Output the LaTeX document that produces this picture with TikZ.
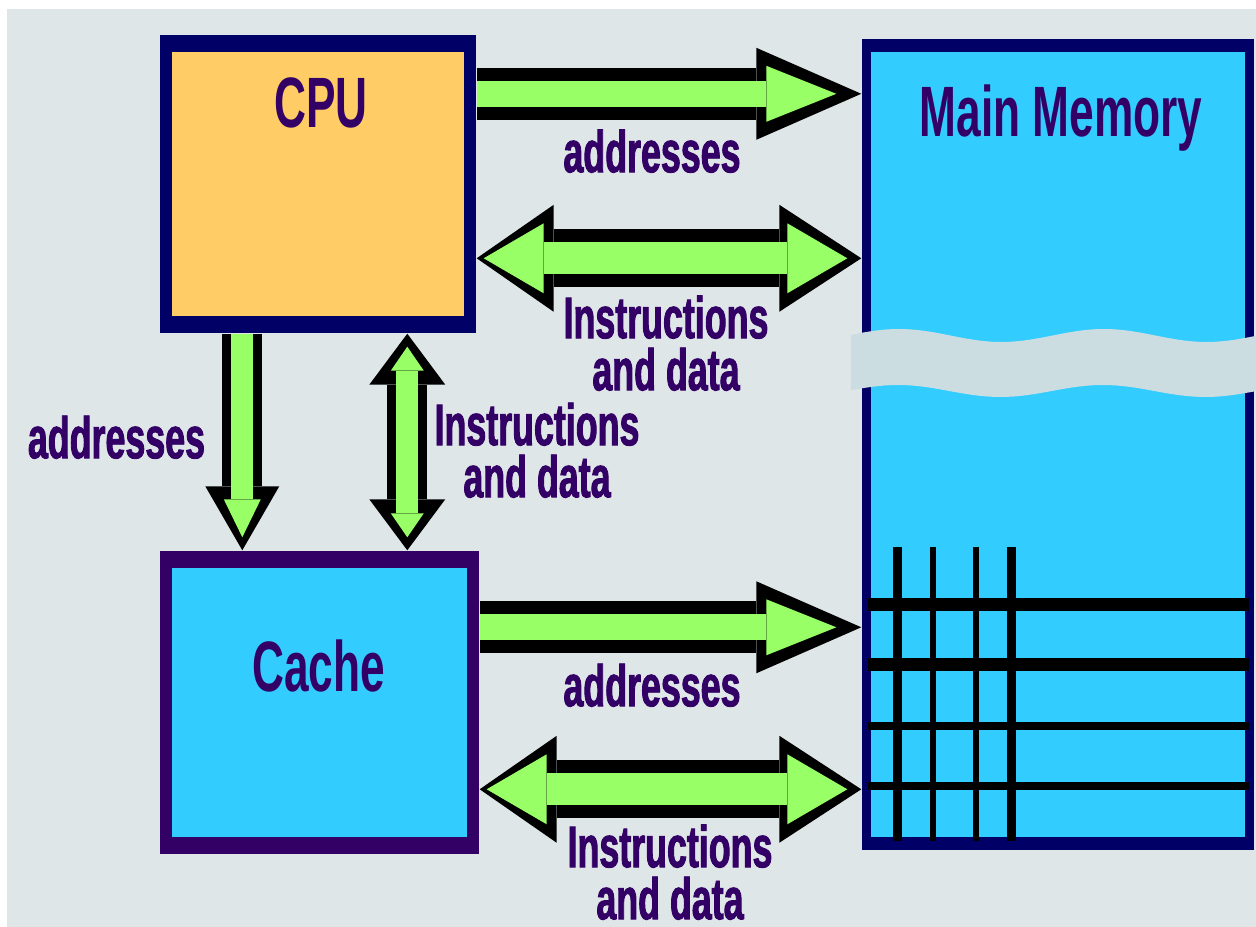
\documentclass[tikz,border=0pt]{standalone}
\usepackage{fontspec}
\usepackage{tikz}
\usetikzlibrary{arrows.meta,calc}
\newfontfamily\diagfont[FakeStretch=0.62]{Liberation Sans}
\newfontfamily\busfont[FakeStretch=0.61, FakeBold=1.5]{Liberation Sans Bold}
\definecolor{bgrey}{HTML}{DFE6E8}
\definecolor{navy}{HTML}{000066}
\definecolor{plum}{HTML}{330066}
\definecolor{cpuorange}{HTML}{FFCC66}
\definecolor{memcyan}{HTML}{33CCFF}
\definecolor{busgreen}{HTML}{99FF66}
\definecolor{gapgrey}{HTML}{CCDDE1}
\tikzset{unitbox/.style n args={4}{fill=#1, inner sep=0pt, path picture={\fill[#2] ([shift={(#3,#4)}]path picture bounding box.north west) rectangle ([shift={(-#3,-#4)}]path picture bounding box.south east);}}}
\tikzstyle{title} = [inner sep=0pt, text=plum, font=\diagfont\bfseries\fontsize{20.3}{24}\selectfont, anchor=base]
\tikzstyle{buslabel} = [inner sep=0pt, text=plum, font=\busfont\fontsize{16.7}{14.8}\selectfont, align=center, anchor=north]
\tikzstyle{addrbus} = [draw=black, line width=5.2mm, -{Triangle[length=10.5mm 0 0, width=9.2mm 0 0, line width=0pt 0 0]}, postaction={draw=busgreen, line width=2.6mm, shorten >=2.5mm, -{Triangle[length=7mm 0 0, width=5.6mm 0 0, line width=0pt 0 0]}}]
\tikzstyle{databus} = [draw=black, line width=5.8mm, {Triangle[length=7.7mm 0 0, width=10.7mm 0 0, line width=0pt 0 0]}-{Triangle[length=8.2mm 0 0, width=10.7mm 0 0, line width=0pt 0 0]}, postaction={draw=busgreen, line width=3.2mm, shorten <=0.7mm, shorten >=1.4mm, {Triangle[length=6mm 0 0, width=7mm 0 0, line width=0pt 0 0]}-{Triangle[length=6mm 0 0, width=7mm 0 0, line width=0pt 0 0]}}]
\tikzstyle{addrdown} = [draw=black, line width=4mm, -{Triangle[length=6.4mm 0 0, width=7.4mm 0 0, line width=0pt 0 0]}, postaction={draw=busgreen, line width=2.2mm, shorten >=1.3mm, -{Triangle[length=3.8mm 0 0, width=3.7mm 0 0, line width=0pt 0 0]}}]
\tikzstyle{datavert} = [draw=black, line width=4mm, {Triangle[length=5.1mm 0 0, width=7.6mm 0 0, line width=0pt 0 0]}-{Triangle[length=5.1mm 0 0, width=7.6mm 0 0, line width=0pt 0 0]}, postaction={draw=busgreen, line width=2.2mm, shorten <=1.3mm, shorten >=1.3mm, {Triangle[length=2.4mm 0 0, width=3.3mm 0 0, line width=0pt 0 0]}-{Triangle[length=2.4mm 0 0, width=3.3mm 0 0, line width=0pt 0 0]}}]
\begin{document}
\begin{tikzpicture}[x=0.1mm, y=-0.1mm]
        \useasboundingbox (0,0) rectangle (1256,927);
        \fill [white] (0,0) rectangle (1256,927);
        \fill [bgrey] (7,9) rectangle (1256,927);
        \node [unitbox={navy}{cpuorange}{12}{17}, minimum width=31.6mm, minimum height=29.8mm] (cpu) at (318,184) {};
        \node [unitbox={plum}{memcyan}{12}{17}, minimum width=31.9mm, minimum height=30.3mm] (cache) at (319.5,702.5) {};
        \node [unitbox={navy}{memcyan}{9}{13}, minimum width=39.2mm, minimum height=81.1mm] (mem) at (1058,444.5) {};
        \fill [gapgrey] plot [domain=851:1256, samples=61] (\x, {335.5-6.5*cos(1.7561*(\x-899))}) -- plot [domain=1256:851, samples=61] (\x, {391-6*cos(1.7561*(\x-898))}) -- cycle;
        \foreach \gx/\gw in {897.5/0.9, 933/0.6, 976/0.6, 1011.5/0.9}
          \draw [line width=\gw mm] (\gx,547) -- (\gx,841);
        \foreach \gy/\gw in {604.5/1.3, 664.5/1.3, 726/0.8, 786/0.8}
          \draw [line width=\gw mm] (868,\gy) -- (1249,\gy);
        \node [title] (cputitle) at ($(cpu.north)+(3,93)$) {CPU};
        \node [title] (cachetitle) at ($(cache.north)+(-1,141)$) {Cache};
        \node [title] (memtitle) at ($(mem.north)+(3,98)$) {Main Memory};
        \coordinate (a1) at ($(cpu.north east)+(0,59.5)$);
        \coordinate (d1) at ($(cpu.north east)+(0,224)$);
        \coordinate (a2) at ($(cache.north east)+(0,77)$);
        \coordinate (d2) at ($(cache.north east)+(0,239)$);
        \coordinate (a3) at ($(cpu.south west)+(83,0)$);
        \coordinate (d3) at ($(cpu.south west)+(248,0)$);
        \draw [addrbus] (a1) -- (a1 -| mem.west);
        \draw [databus] (d1) -- (d1 -| mem.west);
        \draw [addrbus] (a2) -- (a2 -| mem.west);
        \draw [databus] (d2) -- (d2 -| mem.west);
        \draw [addrdown] (a3) -- (a3 |- cache.north);
        \draw [datavert] (d3) -- (d3 |- cache.north);
        \node [buslabel] (addrtop) at (652,129) {addresses};
        \node [buslabel] (datatop) at (666,295) {Instructions\\and data};
        \node [buslabel] (addrleft) at (116.5,415) {addresses};
        \node [buslabel] (datamid) at (537,402) {Instructions\\and data};
        \node [buslabel] (addrbot) at (652,663) {addresses};
        \node [buslabel] (databot) at (670,824) {Instructions\\and data};
\end{tikzpicture}
\end{document}
